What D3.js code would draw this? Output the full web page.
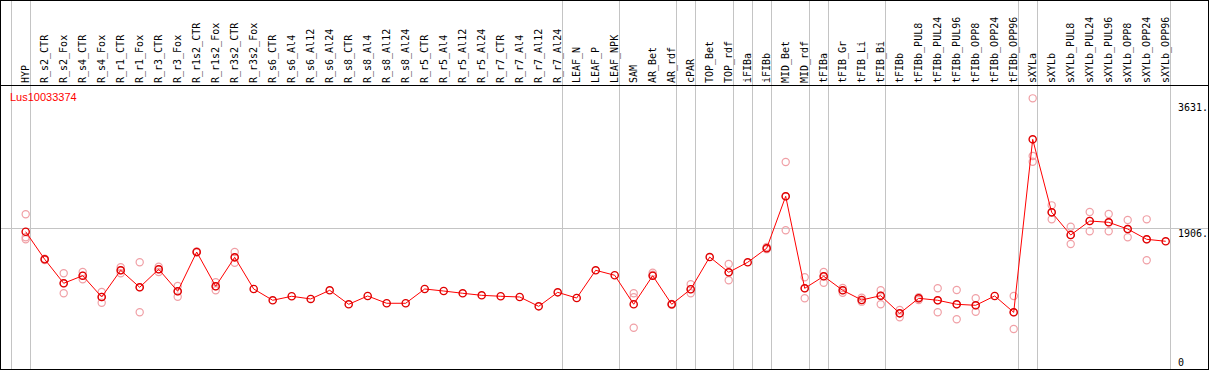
<!DOCTYPE html>
<html>
<head>
<meta charset="utf-8">
<script src="https://cdn.jsdelivr.net/npm/d3@7"></script>
<style>
  body { margin: 0; background: #fff; }
  svg { display: block; }
</style>
</head>
<body>
<svg id="chart" width="1209" height="370"></svg>
<script>
const gene = "Lus10033374";

const samples = ["HYP", "R_s2_CTR", "R_s2_Fox", "R_s4_CTR", "R_s4_Fox", "R_r1_CTR", "R_r1_Fox",
  "R_r3_CTR", "R_r3_Fox", "R_r1s2_CTR", "R_r1s2_Fox", "R_r3s2_CTR", "R_r3s2_Fox", "R_s6_CTR",
  "R_s6_Al4", "R_s6_Al12", "R_s6_Al24", "R_s8_CTR", "R_s8_Al4", "R_s8_Al12", "R_s8_Al24",
  "R_r5_CTR", "R_r5_Al4", "R_r5_Al12", "R_r5_Al24", "R_r7_CTR", "R_r7_Al4", "R_r7_Al12",
  "R_r7_Al24", "LEAF_N", "LEAF_P", "LEAF_NPK", "SAM", "AR_Bet", "AR_rdf", "cPAR", "TOP_Bet",
  "TOP_rdf", "iFIBa", "iFIBb", "MID_Bet", "MID_rdf", "tFIBa", "tFIB_Gr", "tFIB_Li", "tFIB_Bi",
  "tFIBb", "tFIBb_PUL8", "tFIBb_PUL24", "tFIBb_PUL96", "tFIBb_OPP8", "tFIBb_OPP24", "tFIBb_OPP96",
  "sXYLa", "sXYLb", "sXYLb_PUL8", "sXYLb_PUL24", "sXYLb_PUL96", "sXYLb_OPP8", "sXYLb_OPP24",
  "sXYLb_OPP96"];

const means = [1859, 1481, 1152, 1256, 964, 1330, 1097, 1344, 1042, 1581, 1111, 1508, 1074, 919,
  974, 937, 1056, 864, 978, 878, 878, 1074, 1046, 1015, 987, 974, 964, 836, 1028, 950, 1330,
  1262, 864, 1256, 864, 1070, 1512, 1303, 1440, 1632, 2345, 1083, 1248, 1056, 923, 982, 740,
  946, 919, 864, 850, 978, 754, 3126, 2125, 1814, 2006, 1988, 1896, 1755, 1728];

const reps = [
  [2098, 1783, 1755], [1490, 1481, 1472], [1289, 1152, 1015], [1307, 1256, 1207],
  [1033, 964, 886], [1371, 1330, 1289], [1440, 1097, 754], [1379, 1344, 1307],
  [1115, 1042, 968], [1590, 1581, 1575], [1166, 1111, 1056], [1581, 1508, 1434],
  [], [], [], [], [], [], [], [], [], [], [], [], [], [], [], [], [], [], [], [],
  [1015, 960, 543], [1297, 1270, 1256], [870, 864, 858], [1138, 1070, 1015], [],
  [1416, 1303, 1193], [], [1650, 1632, 1620], [2815, 2345, 1879], [1234, 1083, 946],
  [1307, 1248, 1160], [1087, 1056, 1023], [954, 923, 900], [1056, 982, 864],
  [786, 740, 686], [960, 946, 923], [1083, 919, 754], [1060, 864, 658], [946, 850, 762],
  [], [978, 754, 525], [3688, 2897, 2819], [2221, 2125, 2029], [1928, 1814, 1691],
  [2129, 2006, 1865], [2102, 1988, 1865], [2020, 1896, 1783], [2029, 1755, 1467], []
];

const yTicks = [0, 1906, 3631];
const yGrid = [1906];
// index of the first sample of each group, plus the end
const groupBreaks = [0, 1, 29, 32, 35, 36, 38, 39, 40, 42, 43, 46, 53, 54, 61];

const W = 1209, H = 370;
const headerY = 85, bottomY = 369;
const svg = d3.select("#chart");

const x = d3.scaleBand().domain(samples).range([10.7, 1169.7]);
const cx = s => x(s) + 15;
const y = d3.scaleLinear().domain([0, 3631]).range([367.3, 102.5]);
const edge = k => k < samples.length ? x(samples[k]) : x.range()[1];

// group separators
svg.append("g")
    .attr("stroke", "#c4c4c4")
    .attr("shape-rendering", "crispEdges")
  .selectAll("line")
  .data(groupBreaks)
  .join("line")
    .attr("x1", d => Math.round(edge(d)) + 0.5)
    .attr("x2", d => Math.round(edge(d)) + 0.5)
    .attr("y1", 0)
    .attr("y2", bottomY);

// horizontal grid
svg.append("g")
    .attr("stroke", "#c4c4c4")
    .attr("shape-rendering", "crispEdges")
  .selectAll("line")
  .data(yGrid)
  .join("line")
    .attr("x1", 1)
    .attr("x2", W - 1)
    .attr("y1", d => Math.round(y(d)) + 0.5)
    .attr("y2", d => Math.round(y(d)) + 0.5);

// frame
const frame = svg.append("g")
    .attr("stroke", "#000")
    .attr("fill", "none")
    .attr("shape-rendering", "crispEdges");
frame.append("rect").attr("x", 0.5).attr("y", 0.5).attr("width", W - 1.5).attr("height", bottomY);
frame.append("line").attr("x1", 0).attr("x2", W).attr("y1", headerY + 0.5).attr("y2", headerY + 0.5);

// sample labels
svg.append("g")
    .attr("font-family", "DejaVu Sans Mono, monospace")
    .attr("font-size", 10)
  .selectAll("text")
  .data(samples)
  .join("text")
    .attr("transform", d => `translate(${cx(d) + 3},${headerY - 2}) rotate(-90)`)
    .text(d => d);

// y tick labels
svg.append("g")
    .attr("font-family", "DejaVu Sans Mono, monospace")
    .attr("font-size", 10)
  .selectAll("text")
  .data(yTicks)
  .join("text")
    .attr("x", 1178)
    .attr("y", d => Math.min(y(d) + 8.3, 365.5))
    .text(d => d === 0 ? "0" : d + ".");

svg.append("text")
    .attr("x", 10)
    .attr("y", 101)
    .attr("fill", "#ff0000")
    .attr("font-family", "Liberation Sans, Arial, sans-serif")
    .attr("font-size", 11)
    .text(gene);

// replicate points
const repPts = samples.flatMap((s, i) => reps[i].map(v => ({s, v})));
svg.append("g")
    .attr("fill", "none")
    .attr("stroke", "#f0a0a6")
    .attr("stroke-width", 1.2)
  .selectAll("circle")
  .data(repPts)
  .join("circle")
    .attr("cx", d => cx(d.s))
    .attr("cy", d => y(d.v))
    .attr("r", 3.6);

// mean line
const line = d3.line()
    .x((d, i) => cx(samples[i]))
    .y(d => y(d));
svg.append("path")
    .datum(means)
    .attr("fill", "none")
    .attr("stroke", "#ff0000")
    .attr("stroke-width", 1)
    .attr("d", line);

svg.append("g")
    .attr("fill", "none")
    .attr("stroke", "#e00000")
    .attr("stroke-width", 1.4)
  .selectAll("circle")
  .data(means)
  .join("circle")
    .attr("cx", (d, i) => cx(samples[i]))
    .attr("cy", d => y(d))
    .attr("r", 3.6);
</script>
</body>
</html>
